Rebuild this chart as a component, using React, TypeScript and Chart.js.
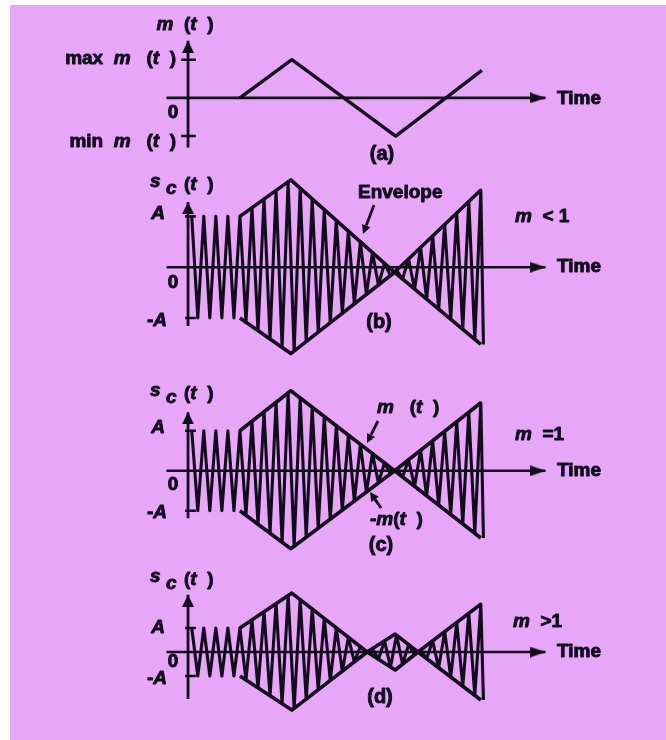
import React, { useEffect, useRef } from "react";
import { Chart, registerables } from "chart.js";

Chart.register(...registerables);

// ---------------- data ----------------
// modulating signal m(t): time (arbitrary units) / value normalised to max m(t)
const M_TIME = [1, 2, 4, 5.66];
const M_VALUE = [0, 1, -1, 0.72];

// envelopes of s_c(t), in units of A
const ENV_B_TIME = [1, 1.98, 3.98, 5.64];
const ENV_B_UPPER = [1, 1.72, -0.1, 1.52];
const ENV_B_LOWER = [-1, -1.7, -0.1, -1.52];

const ENV_C_TIME = [1, 1.98, 3.98, 5.64];
const ENV_C_UPPER = [1, 2, 0, 1.7];
const ENV_C_LOWER = [-1, -1.95, 0, -1.68];

const ENV_D_TIME = [1, 2, 3.45, 3.99, 4.43, 5.64];
const ENV_D_UPPER = [1, 2.46, 0, 0.75, 0, 2.0];
const ENV_D_LOWER = [-1, -2.42, 0, -0.75, 0, -2.0];

// carrier: time of first positive peak and period (same time units)
const CARRIER_FIRST_PEAK = 0.072;
const CARRIER_PERIOD = 0.232;

// texts
const TIME_LABEL = "Time";
const CAPTIONS = ["(a)", "(b)", "(c)", "(d)"];
const CONDITIONS = ["*m*  < 1", "*m*  =1", "*m*  >1"];
const A_LABELS = ["max  *m*   (*t*  )", "0", "min  *m*   (*t*  )"];
const SC_LABELS = ["*A*", "0", "-*A*"];
const M_AXIS_TITLE = "*m*  (*t*  )";
const ENVELOPE_LABEL = "Envelope";
const PLUS_M_LABEL = "*m*   (*t*  )";
const MINUS_M_LABEL = "-*m*(*t*  )";

// ---------------- layout ----------------
const W = 666;
const H = 740;
const X0_PX = 185;
const PX_PER_T = 53;
const PINK = "#e8a6f8";
const INK = "#120c1c";
const FONT = '"Liberation Sans", Arial, Helvetica, sans-serif';

type Label = { text: string; x: number; y: number; align: "left" | "center" | "right"; size?: number };
type Arrow = { x1: number; y1: number; x2: number; y2: number };

type PanelSpec = {
  key: string;
  top: number;
  height: number;
  axisY: number;
  unit: number;
  axisTopPx: number;
  axisBottomPx: number;
  tickFromPx: number;
  tickToPx: number;
  signal?: { t: number[]; v: number[] };
  env?: { t: number[]; up: number[]; lo: number[] };
  labels: Label[];
  arrows: Arrow[];
};

function scLabels(tip: number, aY: number, zY: number, mY: number): Label[] {
  return [
    { text: "*s*", x: 150, y: tip - 15, align: "left" },
    { text: "*c*", x: 166, y: tip - 8, align: "left" },
    { text: "(*t*  )", x: 184, y: tip - 12, align: "left" },
    { text: SC_LABELS[0], x: 158, y: aY, align: "center" },
    { text: SC_LABELS[1], x: 173, y: zY, align: "center" },
    { text: SC_LABELS[2], x: 157, y: mY, align: "center" },
  ];
}

const PANELS: PanelSpec[] = [
  {
    key: "a", top: 0, height: 170, axisY: 99, unit: 41.5,
    axisTopPx: 37, axisBottomPx: 153, tickFromPx: 178, tickToPx: 193,
    signal: { t: M_TIME, v: M_VALUE },
    labels: [
      { text: M_AXIS_TITLE, x: 185, y: 25, align: "center" },
      { text: A_LABELS[0], x: 176, y: 59, align: "right" },
      { text: A_LABELS[1], x: 173, y: 113, align: "center" },
      { text: A_LABELS[2], x: 176, y: 142, align: "right" },
      { text: TIME_LABEL, x: 557, y: 99, align: "left" },
      { text: CAPTIONS[0], x: 382, y: 154, align: "center", size: 20 },
    ],
    arrows: [],
  },
  {
    key: "b", top: 170, height: 200, axisY: 267, unit: 54.5,
    axisTopPx: 197, axisBottomPx: 330, tickFromPx: 182, tickToPx: 193,
    env: { t: ENV_B_TIME, up: ENV_B_UPPER, lo: ENV_B_LOWER },
    labels: [
      ...scLabels(197, 214, 283, 321),
      { text: ENVELOPE_LABEL, x: 358, y: 193, align: "left" },
      { text: CONDITIONS[0], x: 515, y: 217, align: "left" },
      { text: TIME_LABEL, x: 557, y: 267, align: "left" },
      { text: CAPTIONS[1], x: 379, y: 322, align: "center", size: 20 },
    ],
    arrows: [{ x1: 374, y1: 205, x2: 363, y2: 234 }],
  },
  {
    key: "c", top: 370, height: 195, axisY: 471, unit: 43,
    axisTopPx: 408, axisBottomPx: 522, tickFromPx: 182, tickToPx: 193,
    env: { t: ENV_C_TIME, up: ENV_C_UPPER, lo: ENV_C_LOWER },
    labels: [
      ...scLabels(406, 428, 485, 513),
      { text: PLUS_M_LABEL, x: 377, y: 408, align: "left" },
      { text: MINUS_M_LABEL, x: 370, y: 520, align: "left" },
      { text: CONDITIONS[1], x: 515, y: 435, align: "left" },
      { text: TIME_LABEL, x: 557, y: 471, align: "left" },
      { text: CAPTIONS[2], x: 381, y: 545, align: "center", size: 20 },
    ],
    arrows: [
      { x1: 378, y1: 421, x2: 367, y2: 443 },
      { x1: 381, y1: 508, x2: 370, y2: 492 },
    ],
  },
  {
    key: "d", top: 565, height: 175, axisY: 652, unit: 26,
    axisTopPx: 590, axisBottomPx: 703, tickFromPx: 182, tickToPx: 193,
    env: { t: ENV_D_TIME, up: ENV_D_UPPER, lo: ENV_D_LOWER },
    labels: [
      ...scLabels(592, 628, 662, 679),
      { text: CONDITIONS[2], x: 513, y: 622, align: "left" },
      { text: TIME_LABEL, x: 557, y: 652, align: "left" },
      { text: CAPTIONS[3], x: 380, y: 697, align: "center", size: 20 },
    ],
    arrows: [],
  },
];

// ---------------- helpers ----------------
function interp(ts: number[], vs: number[], t: number): number {
  if (t <= ts[0]) return vs[0];
  const n = ts.length;
  if (t >= ts[n - 1]) return vs[n - 1];
  for (let i = 0; i < n - 1; i++) {
    if (t <= ts[i + 1]) {
      return vs[i] + ((vs[i + 1] - vs[i]) * (t - ts[i])) / (ts[i + 1] - ts[i]);
    }
  }
  return vs[n - 1];
}

function carrierPoints(ts: number[], up: number[], lo: number[]) {
  const pts: { x: number; y: number }[] = [];
  const half = CARRIER_PERIOD / 2;
  const end = ts[ts.length - 1];
  let k = 0;
  while (true) {
    const t = CARRIER_FIRST_PEAK + k * half;
    if (t > end + 1e-6) break;
    pts.push({ x: t, y: k % 2 === 0 ? interp(ts, up, t) : interp(ts, lo, t) });
    k++;
  }
  const last = pts[pts.length - 1];
  const t = Math.min(last.x + 0.05, end + 0.05);
  pts.push({ x: t, y: k % 2 === 0 ? interp(ts, up, t) : interp(ts, lo, t) });
  return pts;
}

function makeArrowCanvas(len: number, wid: number) {
  const c = document.createElement("canvas");
  c.width = len * 2;
  c.height = wid;
  const g = c.getContext("2d")!;
  g.fillStyle = INK;
  g.beginPath();
  g.moveTo(0, 0);
  g.lineTo(len, wid / 2);
  g.lineTo(0, wid);
  g.closePath();
  g.fill();
  return c;
}

function drawRich(ctx: CanvasRenderingContext2D, text: string, x: number, y: number, align: string, size: number) {
  const segs = text
    .split("*")
    .map((s, i) => ({ s, it: i % 2 === 1 }))
    .filter((s) => s.s.length > 0);
  const font = (it: boolean) => `${it ? "italic " : ""}bold ${size}px ${FONT}`;
  const widths = segs.map((sg) => {
    ctx.font = font(sg.it);
    return ctx.measureText(sg.s).width;
  });
  const total = widths.reduce((a, b) => a + b, 0);
  let cx = align === "left" ? x : align === "right" ? x - total : x - total / 2;
  ctx.textBaseline = "middle";
  ctx.textAlign = "left";
  ctx.lineWidth = 0.9;
  ctx.lineJoin = "round";
  segs.forEach((sg, i) => {
    ctx.font = font(sg.it);
    ctx.fillText(sg.s, cx, y);
    ctx.strokeText(sg.s, cx, y);
    cx += widths[i];
  });
}

function drawAnnotationArrow(ctx: CanvasRenderingContext2D, a: Arrow, top: number) {
  const x1 = a.x1, y1 = a.y1 - top, x2 = a.x2, y2 = a.y2 - top;
  const ang = Math.atan2(y2 - y1, x2 - x1);
  const hl = 9, hw = 4.5;
  const bx = x2 - Math.cos(ang) * hl;
  const by = y2 - Math.sin(ang) * hl;
  ctx.lineWidth = 2.8;
  ctx.beginPath();
  ctx.moveTo(x1, y1);
  ctx.lineTo(bx, by);
  ctx.stroke();
  ctx.beginPath();
  ctx.moveTo(x2, y2);
  ctx.lineTo(bx + Math.sin(ang) * hw, by - Math.cos(ang) * hw);
  ctx.lineTo(bx - Math.sin(ang) * hw, by + Math.cos(ang) * hw);
  ctx.closePath();
  ctx.fill();
}

function buildConfig(p: PanelSpec): any {
  const tPx = (px: number) => (px - X0_PX) / PX_PER_T;
  const vPx = (py: number) => (p.axisY - py) / p.unit;
  const hArrow = makeArrowCanvas(16, 11);
  const vArrow = makeArrowCanvas(12, 12);
  const line = (data: any[], width: number, extra: any = {}) => ({
    data,
    borderColor: INK,
    backgroundColor: INK,
    borderWidth: width,
    pointRadius: 0,
    fill: false,
    tension: 0,
    borderJoinStyle: "round",
    borderCapStyle: "butt",
    ...extra,
  });

  const datasets: any[] = [];
  if (p.signal) {
    const s = p.signal;
    datasets.push(line(s.t.map((t, i) => ({ x: t, y: s.v[i] })), 3.4));
  }
  if (p.env) {
    const e = p.env;
    datasets.push(line(e.t.map((t, i) => ({ x: t, y: e.up[i] })), 3.6));
    datasets.push(line(e.t.map((t, i) => ({ x: t, y: e.lo[i] })), 3.6));
    datasets.push(line(carrierPoints(e.t, e.up, e.lo), 3.1));
  }
  // time axis with arrow
  datasets.push(
    line([{ x: tPx(163), y: 0 }, { x: tPx(550), y: 0 }], 2.6, {
      pointRadius: [0, 4],
      pointStyle: hArrow,
      pointRotation: 0,
    })
  );
  // vertical axis with arrow
  datasets.push(
    line([{ x: 0, y: vPx(p.axisBottomPx) }, { x: 0, y: vPx(p.axisTopPx) }], 2.8, {
      pointRadius: [0, 4],
      pointStyle: vArrow,
      pointRotation: -90,
    })
  );
  // ticks at +1 / -1
  [1, -1].forEach((v) => {
    datasets.push(line([{ x: tPx(p.tickFromPx), y: v }, { x: tPx(p.tickToPx), y: v }], 2.6));
  });

  const overlay = {
    id: "overlay_" + p.key,
    afterDatasetsDraw(chart: any) {
      const ctx: CanvasRenderingContext2D = chart.ctx;
      ctx.save();
      ctx.fillStyle = INK;
      ctx.strokeStyle = INK;
      p.arrows.forEach((a) => drawAnnotationArrow(ctx, a, p.top));
      p.labels.forEach((l) => drawRich(ctx, l.text, l.x, l.y - p.top, l.align, l.size ?? 19));
      ctx.restore();
    },
  };

  return {
    type: "line",
    data: { datasets },
    options: {
      animation: false,
      responsive: false,
      maintainAspectRatio: false,
      events: [],
      layout: { padding: 0 },
      plugins: { legend: { display: false }, tooltip: { enabled: false }, title: { display: false } },
      scales: {
        x: { type: "linear", display: false, min: -X0_PX / PX_PER_T, max: (W - X0_PX) / PX_PER_T },
        y: { type: "linear", display: false, min: -(p.top + p.height - p.axisY) / p.unit, max: (p.axisY - p.top) / p.unit },
      },
    },
    plugins: [overlay],
  };
}

function Panel({ spec }: { spec: PanelSpec }) {
  const ref = useRef<HTMLCanvasElement>(null);
  useEffect(() => {
    const chart = new Chart(ref.current as HTMLCanvasElement, buildConfig(spec));
    return () => chart.destroy();
  }, [spec]);
  return (
    <canvas
      ref={ref}
      width={W}
      height={spec.height}
      style={{ position: "absolute", left: 0, top: spec.top, width: W, height: spec.height }}
    />
  );
}

export default function App() {
  return (
    <div style={{ position: "absolute", left: 0, top: 0, width: W, height: H, background: "#ffffff", overflow: "hidden" }}>
      <div style={{ position: "absolute", left: 10, top: 5, right: 0, bottom: 0, background: PINK }} />
      {PANELS.map((p) => (
        <Panel key={p.key} spec={p} />
      ))}
    </div>
  );
}
